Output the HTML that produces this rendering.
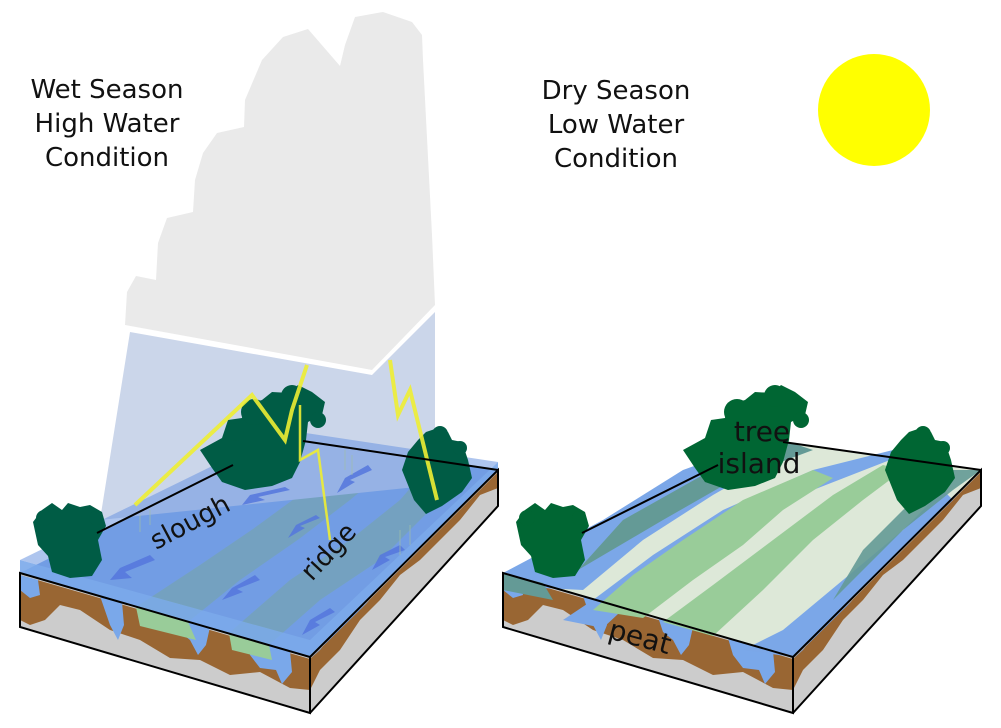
<!DOCTYPE html>
<html><head><meta charset="utf-8"><style>
body{margin:0;background:#fff}
svg{display:block}
text{font-family:"DejaVu Sans","Liberation Sans",sans-serif;fill:#111}
</style></head><body>
<svg width="1001" height="728" viewBox="0 0 1001 728" xmlns="http://www.w3.org/2000/svg">
<defs>
<g id="box">
  <polygon points="20,573 310,657 310,713 20,627" fill="#cccccc"/>
  <polygon points="498,470 498,506 310,713 310,657" fill="#cccccc"/>
  <path d="M20,575 L310,659 L310,690 L290,688 L260,672 L230,675 L200,660 L170,658 L140,640 L110,630 L80,610 L60,605 L45,620 L30,625 L20,620 Z" fill="#996633"/>
  <path d="M310,659 L498,472 L498,488 L480,495 L460,520 L440,540 L420,560 L400,575 L380,600 L360,620 L340,650 L320,670 L310,690 Z" fill="#996633"/>
  <path d="M100,596 L122,602 L124,625 L118,640 L110,625 Z" fill="#7aa8ea"/>
  <path d="M175,617 L210,627 L206,645 L198,655 L190,640 L180,632 Z" fill="#7aa8ea"/>
  <path d="M245,638 L290,651 L292,672 L282,684 L276,670 L260,668 L250,655 Z" fill="#7aa8ea"/>
  <path d="M20,575 L38,580 L40,595 L30,598 L20,590 Z" fill="#7aa8ea"/>
  <path d="M310,659 L370,600 L340,625 L320,650 Z" fill="#7aa8ea"/>
</g>
<g id="bigtree">
  <path d="M200,450 L222,438 L228,420 L242,418 L245,405 L262,400 L272,392 L290,393 L298,385 L312,392 L325,402 L322,415 L308,422 L306,440 L300,462 L292,478 L272,486 L245,490 L222,482 L212,468 Z"/>
  <circle cx="254" cy="412" r="13"/><circle cx="292" cy="396" r="11"/><circle cx="318" cy="420" r="8"/><circle cx="235" cy="432" r="9"/>
</g>
<g id="rtree">
  <path d="M402,470 L408,452 L418,440 L426,432 L438,428 L448,432 L452,440 L462,442 L468,460 L472,478 L462,492 L442,506 L426,514 L414,500 Z"/>
  <circle cx="440" cy="434" r="8"/><circle cx="460" cy="448" r="7"/>
</g>
<g id="ltree">
  <path d="M33,522 L42,510 L52,503 L62,510 L68,503 L80,507 L90,505 L102,512 L106,526 L98,540 L102,560 L92,576 L70,578 L52,572 L48,556 L38,545 Z"/>
  <circle cx="44" cy="518" r="8"/><circle cx="96" cy="518" r="7"/>
</g>
</defs>

<use href="#box"/>
<polygon points="20,573 310,657 498,470 286,439" fill="#7ba7e8"/>
<path d="M136,607 L188,622 L240,580 L299,539 L350,500 L403,456 L360,450 L320,480 L253,529 L200,565 Z" fill="#7fb09a"/>
<path d="M229,633 L269,645 L320,600 L380,560 L430,510 L466,465 L434,461 L400,500 L350,540 L290,580 Z" fill="#7fb09a"/>
<path d="M136,607 L188,622 L196,640 L140,626 Z" fill="#99cc99"/>
<path d="M229,633 L269,645 L272,660 L232,650 Z" fill="#99cc99"/>
<polygon points="130,332 372,375 435,312 435,485 100,520" fill="#cbd6ea"/>
<polygon points="20,560 310,640 498,462 498,470 310,657 20,573" fill="#7aa8ea" opacity="0.9"/>
<polygon points="20,560 286,430 498,462 310,640" fill="#6b95e0" opacity="0.55"/>
<g fill="#5577dd" opacity="0.85">
  <path d="M150,555 L120,568 L110,580 L132,578 L125,572 L155,560 Z"/>
  <path d="M285,487 L250,495 L242,505 L265,500 L258,497 L290,490 Z"/>
  <path d="M368,465 L345,478 L337,493 L355,482 L350,480 L372,470 Z"/>
  <path d="M316,515 L296,525 L288,538 L305,528 L300,526 L320,518 Z"/>
  <path d="M255,575 L232,588 L222,600 L243,592 L237,589 L260,580 Z"/>
  <path d="M330,608 L310,620 L302,635 L320,625 L315,622 L335,612 Z"/>
  <path d="M400,545 L380,555 L372,570 L390,560 L385,557 L405,550 Z"/>
</g>
<g stroke="#9fc0a8" stroke-width="1" opacity="0.7">
  <line x1="345" y1="450" x2="345" y2="470"/><line x1="352" y1="455" x2="352" y2="475"/>
  <line x1="140" y1="515" x2="140" y2="532"/><line x1="150" y1="510" x2="150" y2="525"/>
  <line x1="400" y1="530" x2="400" y2="555"/><line x1="410" y1="525" x2="410" y2="545"/>
</g>
<g fill="#005c45">
  <use href="#bigtree"/><use href="#rtree"/><use href="#ltree"/>
</g>
<g fill="none" stroke="#eeee33" stroke-width="4" opacity="0.9">
  <polyline points="307,365 292,410 285,440 252,395 135,505"/>
  <polyline points="300,405 300,460 318,450 330,540" stroke-width="2.5"/>
  <polyline points="390,360 398,415 410,390 437,500" stroke-width="4"/>
</g>
<polygon points="125,325 127,292 136,276 156,280 158,243 167,218 193,212 195,180 203,153 217,133 244,127 245,100 262,60 283,37 308,29 340,66 345,45 355,17 383,12 412,22 422,35 423,60 432,235 435,305 372,370" fill="#eaeaea"/>
<g fill="none" stroke="#000" stroke-width="2">
  <polygon points="20,573 310,657 310,713 20,627"/>
  <polyline points="310,657 498,470 498,506 310,713"/>
  <line x1="97" y1="533" x2="233" y2="465"/>
  <line x1="303" y1="441" x2="498" y2="470"/>
</g>
<text font-size="26" transform="translate(156,550) rotate(-28)">slough</text>
<text font-size="26" transform="translate(312,582) rotate(-47)">ridge</text>

<g transform="translate(483,0)">
  <use href="#box"/>
  <polygon points="20,573 310,657 498,470 286,439" fill="#dde8d8"/>
  <path d="M20,573 L60,588 L100,590 L160,540 L230,495 L300,455 L286,439 L200,470 L120,520 Z" fill="#7ba7e8"/>
  <path d="M95,570 L180,520 L250,480 L330,450 L300,440 L220,475 L140,520 Z" fill="#649a96"/>
  <path d="M80,620 L120,628 L150,600 L200,560 L260,520 L330,490 L420,455 L410,450 L330,470 L240,510 L170,555 L110,600 Z" fill="#7ba7e8"/>
  <path d="M110,610 L160,618 L210,580 L260,545 L300,510 L350,478 L330,470 L260,500 L200,540 L150,575 Z" fill="#99cc99"/>
  <path d="M180,622 L230,636 L280,590 L330,540 L380,500 L420,470 L400,465 L350,495 L290,540 L230,585 Z" fill="#99cc99"/>
  <path d="M260,650 L310,657 L400,568 L440,528 L470,500 L460,490 L420,530 L360,580 L300,630 Z" fill="#7ba7e8"/>
  <path d="M350,600 L420,530 L470,490 L498,470 L470,470 L420,510 L380,550 Z" fill="#649a96" opacity="0.9"/>
  <polygon points="20,573 60,583 70,600 20,590" fill="#649a96"/>
  <g fill="#006633">
    <use href="#bigtree"/><use href="#rtree"/><use href="#ltree"/>
  </g>
  <g fill="none" stroke="#000" stroke-width="2">
    <polygon points="20,573 310,657 310,713 20,627"/>
    <polyline points="310,657 498,470 498,506 310,713"/>
    <line x1="99" y1="533" x2="235" y2="465"/>
    <line x1="300" y1="442" x2="498" y2="470"/>
  </g>
</g>
<text x="762" y="441" font-size="28" text-anchor="middle">tree</text>
<text x="759" y="473" font-size="28" text-anchor="middle">island</text>
<text font-size="28" transform="translate(607,638) rotate(15)">peat</text>

<g font-size="26" text-anchor="middle">
<text x="107" y="98">Wet Season</text>
<text x="107" y="132">High Water</text>
<text x="107" y="166">Condition</text>
<text x="616" y="99">Dry Season</text>
<text x="616" y="133">Low Water</text>
<text x="616" y="167">Condition</text>
</g>
<circle cx="874" cy="110" r="56" fill="#ffff00"/>
</svg>
</body></html>
